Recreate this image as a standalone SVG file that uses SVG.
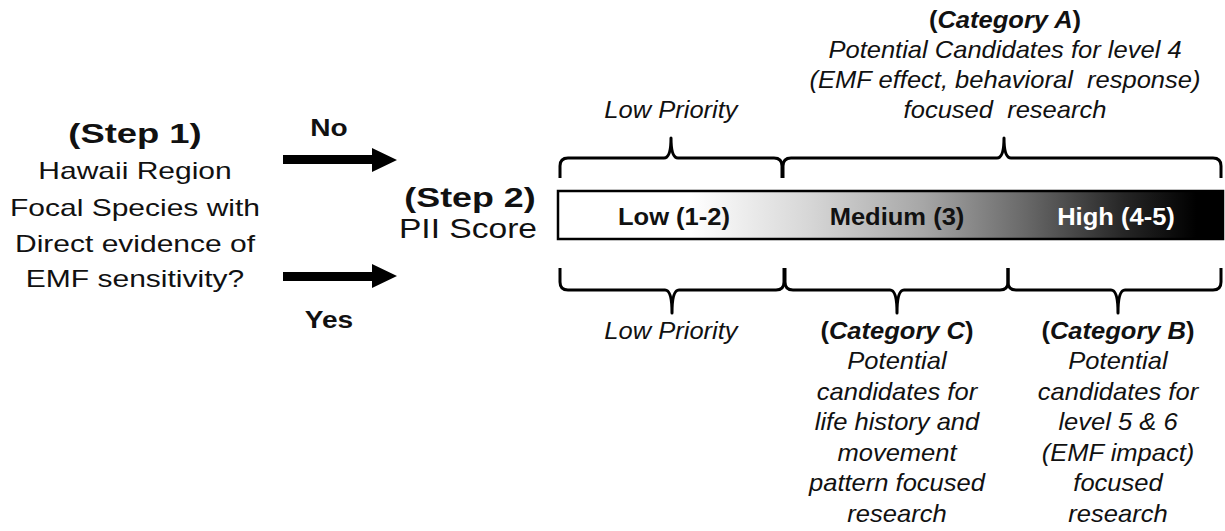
<svg xmlns="http://www.w3.org/2000/svg" width="1225" height="531" viewBox="0 0 1225 531">
<defs>
<linearGradient id="barGrad" x1="0" y1="0" x2="1" y2="0">
<stop offset="0" stop-color="#ffffff"/>
<stop offset="0.2" stop-color="#ffffff"/>
<stop offset="0.38" stop-color="#d6d6d6"/>
<stop offset="0.55" stop-color="#a6a6a6"/>
<stop offset="0.7" stop-color="#6a6a6a"/>
<stop offset="0.85" stop-color="#262626"/>
<stop offset="0.96" stop-color="#000000"/>
<stop offset="1" stop-color="#000000"/>
</linearGradient>
<style>
text{font-family:"Liberation Sans",Arial,sans-serif;fill:#111;text-anchor:middle}
.left{font-size:24px}
.step{font-size:28px;font-weight:bold}
.lbl{font-size:24px;font-weight:bold}
.it{font-style:italic;font-size:23px}
.cat{font-size:23px;font-weight:bold}
.bar{font-size:23px;font-weight:bold}
.brace{fill:none;stroke:#000;stroke-width:3;stroke-linejoin:round}
.arrow{fill:#000}
</style>
</defs>
<rect width="1225" height="531" fill="#fff"/>

<g id="step1" transform="translate(135,0) scale(1.25,1)">
<text class="step" x="0" y="143" transform="scale(1.04,1)">(Step 1)</text>
<text class="left" x="0" y="179">Hawaii Region</text>
<text class="left" x="0" y="216">Focal Species with</text>
<text class="left" x="0" y="252">Direct evidence of</text>
<text class="left" x="0" y="287">EMF sensitivity?</text>
</g>

<g id="connectors">
<polygon class="arrow" points="283,155 372,155 372,148 397,160 372,172 372,164 283,164"/>
<polygon class="arrow" points="283,272 372,272 372,264 397,276 372,288 372,281 283,281"/>
<g transform="translate(329,0) scale(1.17,1)">
<text class="lbl" x="0" y="136">No</text>
<text class="lbl" x="0" y="328">Yes</text>
</g>
</g>

<g id="step2">
<g transform="translate(470,0) scale(1.28,1)"><text class="step" x="0" y="207">(Step 2)</text></g>
<g transform="translate(468,0) scale(1.2,1)"><text class="step" x="0" y="238" style="font-weight:normal">PII Score</text></g>
</g>

<g id="scoreBar">
<rect x="558" y="191" width="665" height="48" fill="url(#barGrad)" stroke="#000" stroke-width="2.5"/>
<g transform="translate(674,0) scale(1.11,1)"><text class="bar" x="0" y="225">Low (1-2)</text></g>
<g transform="translate(897,0) scale(1.11,1)"><text class="bar" x="0" y="225">Medium (3)</text></g>
<g transform="translate(1116,0) scale(1.11,1)"><text class="bar" x="0" y="225" style="fill:#fff">High (4-5)</text></g>
</g>

<g id="topBraces">
<path class="brace" d="M560,178 V166 Q560,158 568,158 H664 Q671,158 671,138 Q671,158 678,158 H774 Q782,158 782,166 V178"/>
<path class="brace" d="M783,178 V166 Q783,158 791,158 H997 Q1004,158 1004,138 Q1004,158 1011,158 H1213 Q1221,158 1221,166 V178"/>
</g>

<g id="bottomBraces">
<path class="brace" d="M560,268 V282 Q560,290 568,290 H665 Q672,290 672,313 Q672,290 679,290 H776 Q784,290 784,282 V268"/>
<path class="brace" d="M785,268 V282 Q785,290 793,290 H890 Q897,290 897,313 Q897,290 904,290 H1000 Q1008,290 1008,282 V268"/>
<path class="brace" d="M1008,268 V282 Q1008,290 1016,290 H1111 Q1118,290 1118,313 Q1118,290 1125,290 H1213 Q1221,290 1221,282 V268"/>
</g>

<g id="lowPriorityTop" transform="translate(671,0) scale(1.11,1)">
<text class="it" x="0" y="118">Low Priority</text>
</g>

<g id="categoryA" transform="translate(1005,0) scale(1.11,1)">
<text class="cat" x="0" y="28">(<tspan font-style="italic">Category A</tspan>)</text>
<text class="it" x="0" y="58">Potential Candidates for level 4</text>
<text class="it" x="0" y="88" xml:space="preserve">(EMF effect, behavioral  response)</text>
<text class="it" x="0" y="118" xml:space="preserve">focused  research</text>
</g>

<g id="lowPriorityBottom" transform="translate(671,0) scale(1.11,1)">
<text class="it" x="0" y="339">Low Priority</text>
</g>

<g id="categoryC" transform="translate(897,0) scale(1.11,1)">
<text class="cat" x="0" y="339">(<tspan font-style="italic">Category C</tspan>)</text>
<text class="it" x="0" y="369.5">Potential</text>
<text class="it" x="0" y="400">candidates for</text>
<text class="it" x="0" y="430.5">life history and</text>
<text class="it" x="0" y="461">movement</text>
<text class="it" x="0" y="491.5">pattern focused</text>
<text class="it" x="0" y="522">research</text>
</g>

<g id="categoryB" transform="translate(1118,0) scale(1.11,1)">
<text class="cat" x="0" y="339">(<tspan font-style="italic">Category B</tspan>)</text>
<text class="it" x="0" y="369.5">Potential</text>
<text class="it" x="0" y="400">candidates for</text>
<text class="it" x="0" y="430.5">level 5 &amp; 6</text>
<text class="it" x="0" y="461">(EMF impact)</text>
<text class="it" x="0" y="491.5">focused</text>
<text class="it" x="0" y="522">research</text>
</g>
</svg>
